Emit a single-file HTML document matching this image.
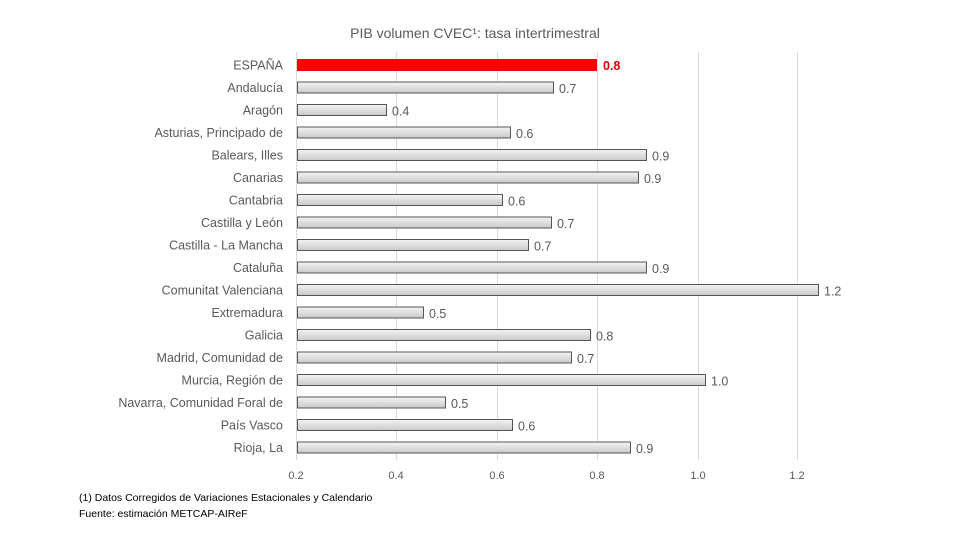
<!DOCTYPE html>
<html><head><meta charset="utf-8"><style>
html,body{margin:0;padding:0;background:#fff;}
svg{display:block;font-family:"Liberation Sans","DejaVu Sans",sans-serif;}
</style></head><body>
<svg width="956" height="537" viewBox="0 0 956 537" xmlns="http://www.w3.org/2000/svg">
<defs>
<linearGradient id="g" x1="0" y1="0" x2="0" y2="1">
<stop offset="0" stop-color="#f4f4f4"/><stop offset="1" stop-color="#c9c9c9"/>
</linearGradient>
</defs>
<text x="475" y="38" text-anchor="middle" font-size="14" fill="#595959">PIB volumen CVEC¹: tasa intertrimestral</text>
<g stroke="#d9d9d9" stroke-width="1">
<line x1="296.5" y1="52" x2="296.5" y2="460"/>
<line x1="396.5" y1="52" x2="396.5" y2="460"/>
<line x1="497.5" y1="52" x2="497.5" y2="460"/>
<line x1="597.5" y1="52" x2="597.5" y2="460"/>
<line x1="698.5" y1="52" x2="698.5" y2="460"/>
<line x1="797.5" y1="52" x2="797.5" y2="460"/>
</g>
<g font-size="11" fill="#595959" text-anchor="middle">
<text x="296" y="479">0.2</text><text x="396" y="479">0.4</text><text x="497" y="479">0.6</text>
<text x="597" y="479">0.8</text><text x="698" y="479">1.0</text><text x="797" y="479">1.2</text>
</g>
<rect x="297" y="59" width="300" height="12" fill="#ff0000"/>
<text x="283" y="69.5" text-anchor="end" font-size="12.5" fill="#595959">ESPAÑA</text>
<text x="603" y="70" font-size="12.5" font-weight="bold" fill="#e00000">0.8</text>
<g font-size="12.5" fill="#595959" stroke="#595959" stroke-width="1">
</g>
<g id="bars"></g>
<g font-size="12.5" fill="#595959">
<script>/*placeholder*/</script>
</g>
<g fill="url(#g)" stroke="#555" stroke-width="1">
<rect x="297.5" y="82" width="256" height="11"/>
<rect x="297.5" y="104.5" width="89" height="11"/>
<rect x="297.5" y="127" width="213" height="11"/>
<rect x="297.5" y="149.5" width="349" height="11"/>
<rect x="297.5" y="172" width="341" height="11"/>
<rect x="297.5" y="194.5" width="205" height="11"/>
<rect x="297.5" y="217" width="254" height="11"/>
<rect x="297.5" y="239.5" width="231" height="11"/>
<rect x="297.5" y="262" width="349" height="11"/>
<rect x="297.5" y="284.5" width="521" height="11"/>
<rect x="297.5" y="307" width="126" height="11"/>
<rect x="297.5" y="329.5" width="293" height="11"/>
<rect x="297.5" y="352" width="274" height="11"/>
<rect x="297.5" y="374.5" width="408" height="11"/>
<rect x="297.5" y="397" width="148" height="11"/>
<rect x="297.5" y="419.5" width="215" height="11"/>
<rect x="297.5" y="442" width="333" height="11"/>
</g>
<g font-size="12.5" fill="#595959" text-anchor="end">
<text x="283" y="92">Andalucía</text>
<text x="283" y="114.5">Aragón</text>
<text x="283" y="137">Asturias, Principado de</text>
<text x="283" y="159.5">Balears, Illes</text>
<text x="283" y="182">Canarias</text>
<text x="283" y="204.5">Cantabria</text>
<text x="283" y="227">Castilla y León</text>
<text x="283" y="249.5">Castilla - La Mancha</text>
<text x="283" y="272">Cataluña</text>
<text x="283" y="294.5">Comunitat Valenciana</text>
<text x="283" y="317">Extremadura</text>
<text x="283" y="339.5">Galicia</text>
<text x="283" y="362">Madrid, Comunidad de</text>
<text x="283" y="384.5">Murcia, Región de</text>
<text x="283" y="407">Navarra, Comunidad Foral de</text>
<text x="283" y="429.5">País Vasco</text>
<text x="283" y="452">Rioja, La</text>
</g>
<g font-size="12.5" fill="#595959">
<text x="559" y="93">0.7</text>
<text x="392" y="115.5">0.4</text>
<text x="516" y="138">0.6</text>
<text x="652" y="160.5">0.9</text>
<text x="644" y="183">0.9</text>
<text x="508" y="205.5">0.6</text>
<text x="557" y="228">0.7</text>
<text x="534" y="250.5">0.7</text>
<text x="652" y="273">0.9</text>
<text x="824" y="295.5">1.2</text>
<text x="429" y="318">0.5</text>
<text x="596" y="340.5">0.8</text>
<text x="577" y="363">0.7</text>
<text x="711" y="385.5">1.0</text>
<text x="451" y="408">0.5</text>
<text x="518" y="430.5">0.6</text>
<text x="636" y="453">0.9</text>
</g>
<text x="79" y="501" font-size="10.5" fill="#000">(1) Datos Corregidos de Variaciones Estacionales y Calendario</text>
<text x="79" y="517" font-size="10.5" fill="#000">Fuente: estimación METCAP-AIReF</text>
</svg>
</body></html>
